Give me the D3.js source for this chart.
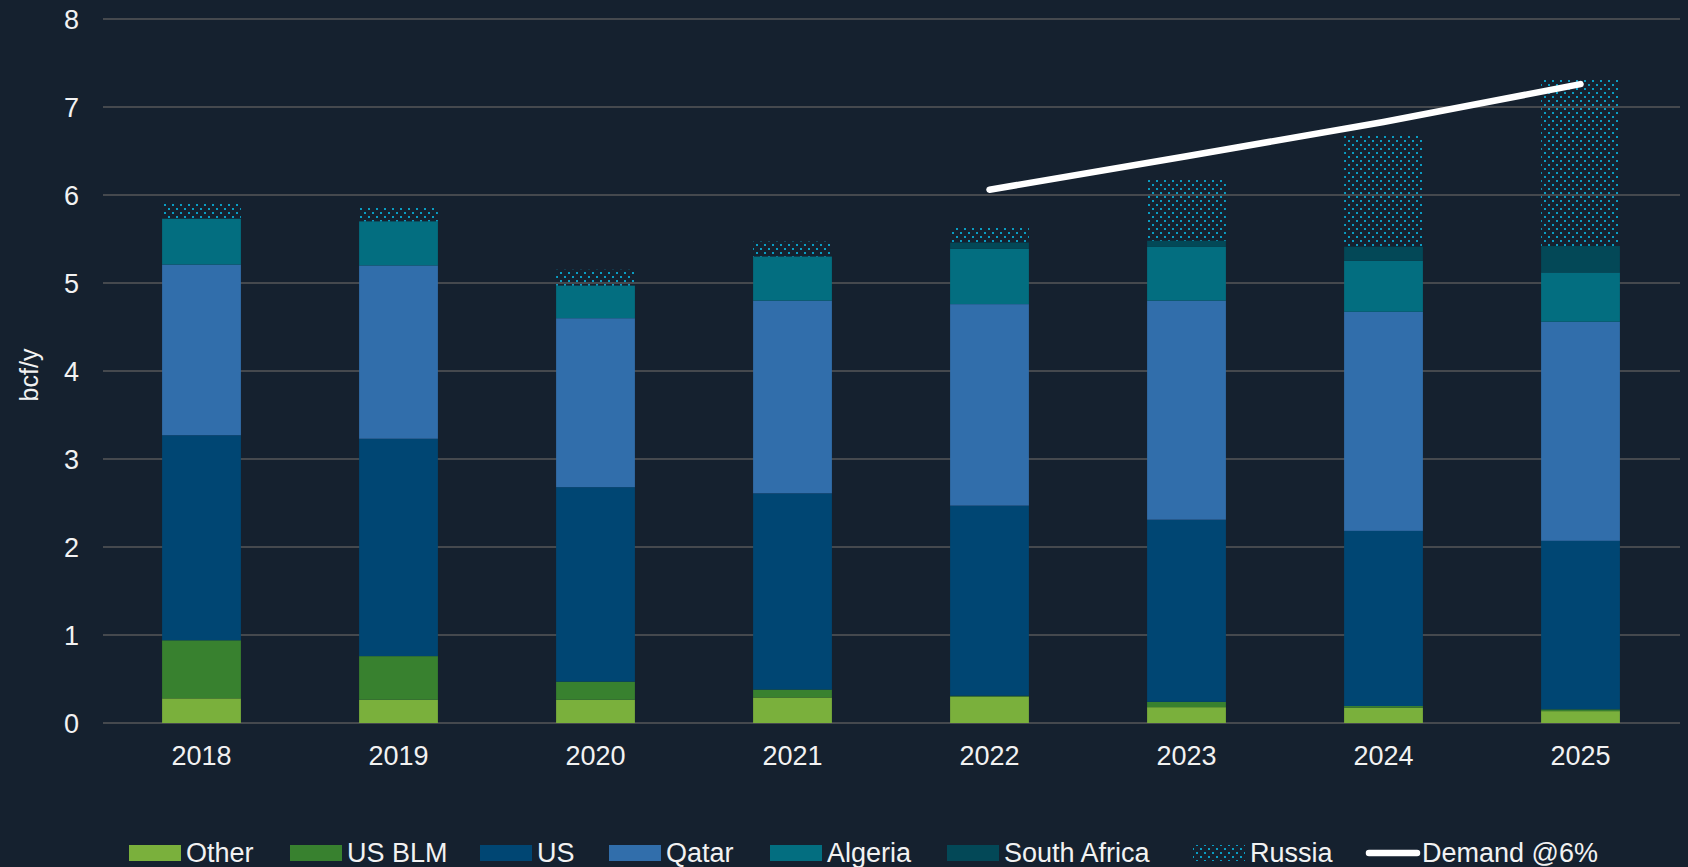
<!DOCTYPE html>
<html>
<head>
<meta charset="utf-8">
<script src="https://cdn.jsdelivr.net/npm/d3@7"></script>
<style>
  html, body { margin: 0; padding: 0; background: #15212f; }
  svg { display: block; font-family: "Liberation Sans", Arial, sans-serif; }
</style>
</head>
<body>
<svg id="chart" width="1688" height="867"></svg>
<script>
/* LNG supply stack by source, bcf/y, with a 6% demand growth line. */
var years = ["2018", "2019", "2020", "2021", "2022", "2023", "2024", "2025"];
var other = [0.28, 0.265, 0.265, 0.29, 0.30, 0.18, 0.175, 0.135];
var usBlm = [0.66, 0.495, 0.205, 0.09, 0.01, 0.06, 0.018, 0.02];
var us = [2.33, 2.47, 2.21, 2.23, 2.16, 2.07, 1.99, 1.915];
var qatar = [1.94, 1.97, 1.92, 2.19, 2.29, 2.49, 2.49, 2.49];
var algeria = [0.52, 0.50, 0.37, 0.50, 0.63, 0.61, 0.58, 0.56];
var southAfrica = [0, 0, 0, 0, 0.07, 0.07, 0.16, 0.30];
var russia = [0.18, 0.16, 0.18, 0.17, 0.185, 0.69, 1.26, 1.89];
var demandYears = ["2022", "2023", "2024", "2025"];
var demand = [6.06, 6.44, 6.83, 7.26];
var yTicks = [0, 1, 2, 3, 4, 5, 6, 7, 8];
var seriesNames = ["Other", "US BLM", "US", "Qatar", "Algeria", "South Africa", "Russia"];

(function () {
  "use strict";

  var C = {
    bg: "#15212f", grid: "#45494e", text: "#f2f2f2", line: "#ffffff",
    dots: "#0a9cc2"
  };
  var FILL = {
    "Other": "#7ab03c", "US BLM": "#38812f", "US": "#004673",
    "Qatar": "#316eab", "Algeria": "#036e80", "South Africa": "#034857",
    "Russia": "url(#dots)"
  };
  var cols = [other, usBlm, us, qatar, algeria, southAfrica, russia];
  // legend swatch left edges, as laid out in the original
  var LEG_X = [129, 290, 480, 609, 770, 947, 1193, 1365];

  var svg = d3.select("#chart");
  svg.append("rect").attr("width", 1688).attr("height", 867).attr("fill", C.bg);

  // dotted fill for Russia
  var pat = svg.append("defs").append("pattern").attr("id", "dots")
    .attr("patternUnits", "userSpaceOnUse").attr("width", 8).attr("height", 8);
  pat.append("rect").attr("x", 0).attr("y", 0).attr("width", 2).attr("height", 2).attr("fill", C.dots);
  pat.append("rect").attr("x", 4).attr("y", 4).attr("width", 2).attr("height", 2).attr("fill", C.dots);

  var x = d3.scaleBand().domain(years).range([103, 1679]).paddingInner(0.6).paddingOuter(0.3);
  var y = d3.scaleLinear().domain([0, 8]).range([723, 19]);

  // gridlines
  svg.append("g").selectAll("line").data(yTicks).join("line")
    .attr("x1", 103).attr("x2", 1680)
    .attr("y1", function (d) { return y(d); }).attr("y2", function (d) { return y(d); })
    .attr("stroke", C.grid).attr("stroke-width", 2);

  // y tick labels
  svg.append("g").selectAll("text").data(yTicks).join("text")
    .attr("x", 79).attr("y", function (d) { return y(d); }).attr("dy", "0.36em")
    .attr("text-anchor", "end").attr("fill", C.text).style("font-size", "27px")
    .text(function (d) { return d; });

  svg.append("text").attr("transform", "translate(38,375) rotate(-90)")
    .attr("text-anchor", "middle").attr("fill", C.text).style("font-size", "25px")
    .text("bcf/y");

  // stacked bars
  var rows = years.map(function (yr, i) {
    var r = { year: yr };
    seriesNames.forEach(function (s, k) { r[s] = cols[k][i]; });
    return r;
  });
  var stack = d3.stack().keys(seriesNames)(rows);
  var gBars = svg.append("g");
  stack.forEach(function (layer) {
    gBars.append("g").attr("fill", FILL[layer.key])
      .selectAll("rect").data(layer).join("rect")
      .attr("x", function (d) { return x(d.data.year); })
      .attr("width", x.bandwidth())
      .attr("y", function (d) { return y(d[1]); })
      .attr("height", function (d) { return Math.max(0, y(d[0]) - y(d[1])); });
  });

  // demand line
  var line = d3.line()
    .x(function (d, i) { return x(demandYears[i]) + x.bandwidth() / 2; })
    .y(function (d) { return y(d); });
  svg.append("path").attr("d", line(demand)).attr("fill", "none")
    .attr("stroke", C.line).attr("stroke-width", 6.5).attr("stroke-linecap", "round");

  // x labels
  svg.append("g").selectAll("text").data(years).join("text")
    .attr("x", function (d) { return x(d) + x.bandwidth() / 2; }).attr("y", 765)
    .attr("text-anchor", "middle").attr("fill", C.text).style("font-size", "27px")
    .text(function (d) { return d; });

  // legend
  var items = seriesNames.concat(["Demand @6%"]);
  var gL = svg.append("g");
  items.forEach(function (name, i) {
    var lx = LEG_X[i];
    if (name === "Demand @6%") {
      gL.append("line").attr("x1", lx + 4).attr("x2", lx + 52).attr("y1", 853).attr("y2", 853)
        .attr("stroke", C.line).attr("stroke-width", 6.5).attr("stroke-linecap", "round");
    } else {
      gL.append("rect").attr("x", lx).attr("y", 845).attr("width", 52).attr("height", 16)
        .attr("fill", FILL[name]);
    }
    gL.append("text").attr("x", lx + 57).attr("y", 862)
      .attr("fill", C.text).style("font-size", "27px").text(name);
  });
})();
</script>
</body>
</html>
